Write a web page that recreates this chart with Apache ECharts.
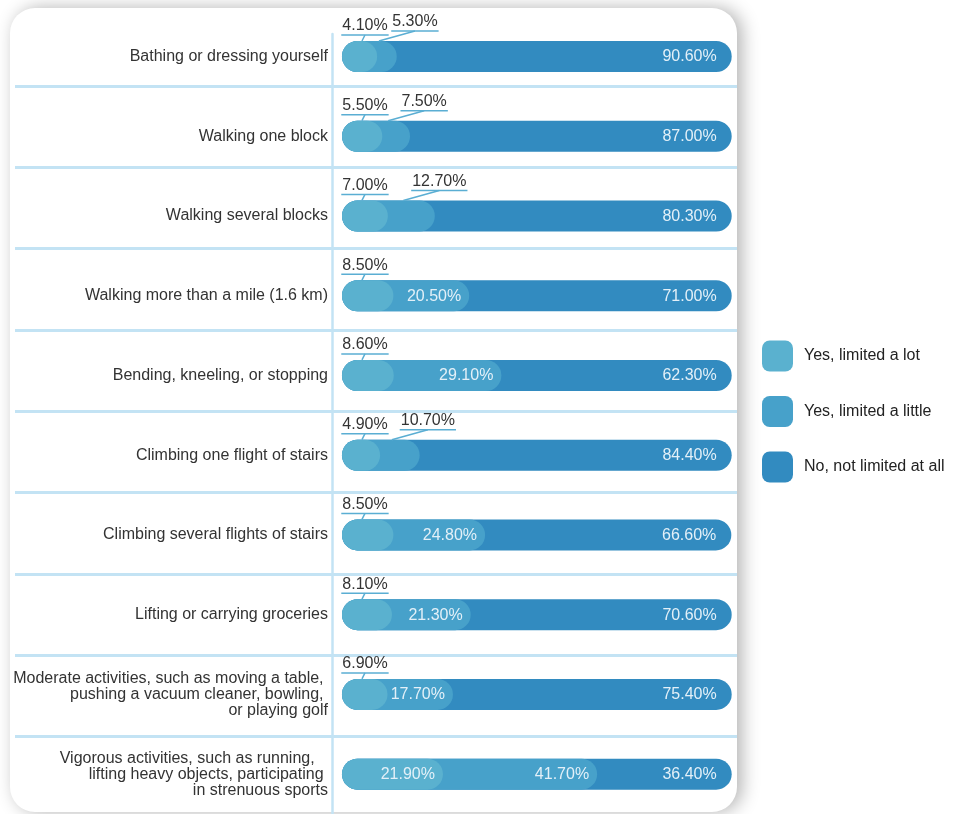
<!DOCTYPE html>
<html>
<head>
<meta charset="utf-8">
<script src="https://cdn.jsdelivr.net/npm/echarts@6/dist/echarts.min.js"></script>
<style>
html,body{margin:0;padding:0;background:#fff;}
#chart{width:958px;height:814px;}
</style>
</head>
<body>
<div id="chart"></div>
<script>
const categories = [
  'Bathing or dressing yourself',
  'Walking one block',
  'Walking several blocks',
  'Walking more than a mile (1.6 km)',
  'Bending, kneeling, or stopping',
  'Climbing one flight of stairs',
  'Climbing several flights of stairs',
  'Lifting or carrying groceries',
  'Moderate activities, such as moving a table, \npushing a vacuum cleaner, bowling, \nor playing golf',
  'Vigorous activities, such as running,   \nlifting heavy objects, participating \nin strenuous sports'
];
const limitedLot    = [4.1, 5.5, 7.0, 8.5, 8.6, 4.9, 8.5, 8.1, 6.9, 21.9];
const limitedLittle = [5.3, 7.5, 12.7, 20.5, 29.1, 10.7, 24.8, 21.3, 17.7, 41.7];
const notLimited    = [90.6, 87.0, 80.3, 71.0, 62.3, 84.4, 66.6, 70.6, 75.4, 36.4];
const seriesNames = ['Yes, limited a lot', 'Yes, limited a little', 'No, not limited at all'];

const colors = ['#5ab1cf', '#47a1ca', '#328bc0'];
const FONT = '"Liberation Sans", Arial, Helvetica, sans-serif';
const BAR_H = 31;
const AXIS_MIN = -5.4;
const LEADER = '#5aaed3';

const measureCtx = document.createElement('canvas').getContext('2d');
measureCtx.font = '16px ' + FONT;
const textW = s => measureCtx.measureText(s).width;
const fmt = v => v.toFixed(2) + '%';

// build [catIndex, end, segment, start]
const lotData = limitedLot.map((v, i) => [i, v, v, 0]);
const littleData = limitedLittle.map((v, i) => [i, limitedLot[i] + v, v, limitedLot[i]]);
const notData = notLimited.map((v, i) => [i, limitedLot[i] + limitedLittle[i] + v, v, limitedLot[i] + limitedLittle[i]]);

function makeRender(kind) {
  return function (params, api) {
    const cat = api.value(0), end = api.value(1), seg = api.value(2), start = api.value(3);
    const pL = api.coord([AXIS_MIN, cat]);
    const pE = api.coord([end, cat]);
    const top = pL[1] - BAR_H / 2;
    const children = [{
      type: 'rect',
      shape: { x: pL[0], y: top, width: pE[0] - pL[0], height: BAR_H, r: BAR_H / 2 },
      style: { fill: api.visual('color') }
    }];
    const text = fmt(seg);
    const inside = kind === 'not' || seg >= 15;
    if (inside) {
      children.push({
        type: 'text', x: pE[0] - (kind === 'not' ? 15 : 8), y: pL[1] + 0.5,
        style: { text: text, fill: '#e3f0f8', font: '16px ' + FONT, align: 'right', verticalAlign: 'middle' }
      });
    } else {
      let bx, tx, uy;
      if (kind === 'lot') {
        bx = api.coord([0, cat])[0];
        tx = bx + 3; uy = top - 6;
      } else {
        const pS = api.coord([start, cat]);
        bx = (pS[0] + pE[0]) / 2 - 8;
        tx = bx + 36; uy = top - 10;
      }
      const w = textW(text) + 2;
      children.push({ type: 'line', shape: { x1: bx, y1: top, x2: tx, y2: uy }, style: { stroke: LEADER, lineWidth: 1.5 } });
      children.push({ type: 'line', shape: { x1: tx - w / 2, y1: uy, x2: tx + w / 2, y2: uy }, style: { stroke: LEADER, lineWidth: 1.5 } });
      children.push({
        type: 'text', x: tx, y: uy - 1,
        style: { text: text, fill: '#333', font: '16px ' + FONT, align: 'center', verticalAlign: 'bottom' }
      });
    }
    return { type: 'group', children: children };
  };
}

const chart = echarts.init(document.getElementById('chart'), null, { renderer: 'canvas' });
chart.setOption({
  backgroundColor: '#ffffff',
  animation: false,
  graphic: [{
    type: 'rect', z: -10,
    shape: { x: 10, y: 8, width: 727, height: 804, r: 25 },
    style: { fill: '#ffffff', shadowBlur: 18, shadowColor: 'rgba(0,0,0,0.3)', shadowOffsetX: 5, shadowOffsetY: 0 }
  }],
  legend: {
    orient: 'vertical', left: 762, top: 340.5, padding: 0,
    itemWidth: 31, itemHeight: 31, itemGap: 24.5, icon: 'roundRect',
    data: seriesNames,
    textStyle: { fontSize: 16, color: '#222', fontFamily: FONT, padding: [0, 0, 0, 6] },
    selectedMode: false
  },
  grid: [
    { left: 342, right: 958 - 731.7, top: 16.6, height: 798 },
    { left: 15, right: 958 - 737, top: 86, height: 650.7 },
    { left: 332, width: 100, top: 34, height: 800 }
  ],
  xAxis: [
    { gridIndex: 0, type: 'value', min: AXIS_MIN, max: 100, show: false },
    { gridIndex: 1, type: 'value', min: 0, max: 1, show: false },
    { gridIndex: 2, type: 'value', min: 0, max: 1, show: false }
  ],
  yAxis: [
    {
      gridIndex: 0, type: 'category', inverse: true, data: categories,
      axisLine: { show: false }, axisTick: { show: false }, splitLine: { show: false },
      axisLabel: { margin: 14, fontSize: 16, color: '#333', lineHeight: 16, fontFamily: FONT, align: 'right' }
    },
    {
      gridIndex: 1, type: 'value', min: 0, max: 8, interval: 1,
      axisLine: { show: false }, axisTick: { show: false }, axisLabel: { show: false },
      splitLine: { show: true, showMinLine: true, showMaxLine: true, lineStyle: { color: '#c3e3f4', width: 3 } }
    },
    {
      gridIndex: 2, type: 'value', min: 0, max: 1,
      axisLine: { show: true, onZero: false, lineStyle: { color: '#c3e3f4', width: 2.5 } },
      axisTick: { show: false }, axisLabel: { show: false }, splitLine: { show: false }
    }
  ],
  series: [
    {
      name: seriesNames[2], type: 'custom', xAxisIndex: 0, yAxisIndex: 0,
      itemStyle: { color: colors[2] }, renderItem: makeRender('not'),
      encode: { x: 1, y: 0 }, data: notData
    },
    {
      name: seriesNames[1], type: 'custom', xAxisIndex: 0, yAxisIndex: 0,
      itemStyle: { color: colors[1] }, renderItem: makeRender('little'),
      encode: { x: 1, y: 0 }, data: littleData
    },
    {
      name: seriesNames[0], type: 'custom', xAxisIndex: 0, yAxisIndex: 0,
      itemStyle: { color: colors[0] }, renderItem: makeRender('lot'),
      encode: { x: 1, y: 0 }, data: lotData
    }
  ]
});
</script>
</body>
</html>
